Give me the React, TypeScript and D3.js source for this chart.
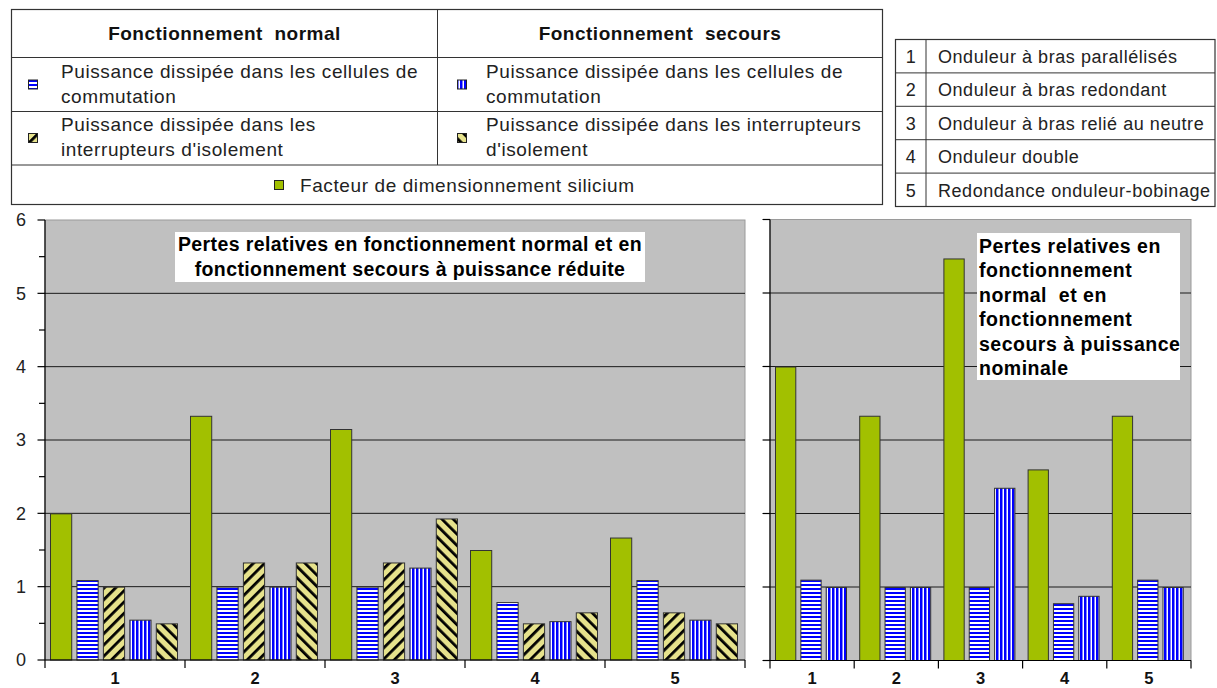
import React from "react";
import * as d3 from "d3";

// ---------- data ----------
const categories = ["1", "2", "3", "4", "5"];
const yTicks = [0, 1, 2, 3, 4, 5, 6];

// Pertes à puissance réduite
const reduitSilicium = [2.0, 3.33, 3.15, 1.5, 1.67];
const reduitNormalCellules = [1.09, 1.0, 1.0, 0.79, 1.09];
const reduitNormalInterrupteurs = [1.0, 1.33, 1.33, 0.5, 0.65];
const reduitSecoursCellules = [0.55, 1.0, 1.26, 0.53, 0.55];
const reduitSecoursInterrupteurs = [0.5, 1.33, 1.93, 0.65, 0.5];

// Pertes à puissance nominale
const nominalSilicium = [4.0, 3.33, 5.47, 2.6, 3.33];
const nominalNormalCellules = [1.1, 1.0, 1.0, 0.78, 1.1];
const nominalSecoursCellules = [1.0, 1.0, 2.35, 0.88, 1.0];

const topologies = [
  "Onduleur à bras parallélisés",
  "Onduleur à bras redondant",
  "Onduleur à bras relié au neutre",
  "Onduleur double",
  "Redondance onduleur-bobinage",
];

const headerNormal = "Fonctionnement  normal";
const headerSecours = "Fonctionnement  secours";
const legendCellules = ["Puissance dissipée dans les cellules de", "commutation"];
const legendInterNormal = ["Puissance dissipée dans les", "interrupteurs d'isolement"];
const legendInterSecours = ["Puissance dissipée dans les interrupteurs", "d'isolement"];
const legendSilicium = "Facteur de dimensionnement silicium";
const titleReduit = [
  "Pertes relatives en fonctionnement normal et en",
  "fonctionnement secours à puissance réduite",
];
const titleNominal = [
  "Pertes relatives en",
  "fonctionnement",
  "normal  et en",
  "fonctionnement",
  "secours à puissance",
  "nominale",
];

// ---------- style ----------
const FONT = "'Liberation Sans', Arial, sans-serif";
const GREEN = "#A2C000";
const YELLOW = "#E6E28C";
const BLUE = "#0000FF";
const GRAY_BG = "#C0C0C0";
const EDGE = "#333333";

type Series = { values: number[]; fill: string };

const reduitSeries: Series[] = [
  { values: reduitSilicium, fill: GREEN },
  { values: reduitNormalCellules, fill: "url(#hStripe)" },
  { values: reduitNormalInterrupteurs, fill: "url(#hatchFwd)" },
  { values: reduitSecoursCellules, fill: "url(#vStripe)" },
  { values: reduitSecoursInterrupteurs, fill: "url(#hatchBack)" },
];
const nominalSeries: Series[] = [
  { values: nominalSilicium, fill: GREEN },
  { values: nominalNormalCellules, fill: "url(#hStripe)" },
  { values: nominalSecoursCellules, fill: "url(#vStripe)" },
];

function BarChart(props: {
  x0: number;
  x1: number;
  y0: number;
  y1: number;
  series: Series[];
  inner: [number, number];
  showLabels: boolean;
  minorTicks: boolean;
}) {
  const { x0, x1, y0, y1, series, inner, showLabels, minorTicks } = props;
  const x = d3.scaleBand<string>().domain(categories).range([x0, x1]).padding(0);
  const y = d3.scaleLinear().domain([0, 6]).range([y0, y1]);
  const xs = d3
    .scaleBand<number>()
    .domain(d3.range(series.length))
    .range(inner)
    .paddingInner(0.16)
    .paddingOuter(0);
  const minor = minorTicks ? d3.range(0.5, 6, 1) : [];
  const bounds = [...categories.map((c) => x(c) as number), x1];
  return (
    <g>
      <rect x={x0} y={y1} width={x1 - x0} height={y0 - y1} fill={GRAY_BG} stroke="#9a9a9a" strokeWidth={1} />
      {[1, 2, 3, 4, 5].map((v) => (
        <line key={"g" + v} x1={x0} x2={x1} y1={y(v)} y2={y(v)} stroke="#1a1a1a" strokeWidth={1} />
      ))}
      {series.map((s, si) =>
        s.values.map((v, ci) => {
          const bx = (x(categories[ci]) as number) + (xs(si) as number);
          return (
            <rect
              key={si + "-" + ci}
              x={bx + 0.5}
              y={y(v) + 0.5}
              width={xs.bandwidth() - 1}
              height={y(0) - y(v) - 0.5}
              fill={s.fill}
              stroke={EDGE}
              strokeWidth={1}
            />
          );
        })
      )}
      {/* y axis */}
      <line x1={x0} x2={x0} y1={y1} y2={y0} stroke="#000" strokeWidth={1.2} />
      {yTicks.map((t) => (
        <line key={"t" + t} x1={x0 - 7.5} x2={x0} y1={y(t)} y2={y(t)} stroke="#000" strokeWidth={1.2} />
      ))}
      {minor.map((t) => (
        <line key={"m" + t} x1={x0 - 6} x2={x0} y1={y(t)} y2={y(t)} stroke="#000" strokeWidth={1.2} />
      ))}
      {showLabels &&
        yTicks.map((t) => (
          <text
            key={"l" + t}
            x={x0 - 19}
            y={y(t)}
            dy="0.36em"
            textAnchor="end"
            fontFamily={FONT}
            fontSize={18}
            fill="#222"
          >
            {t}
          </text>
        ))}
      {/* x axis */}
      <line x1={x0} x2={x1} y1={y0} y2={y0} stroke="#000" strokeWidth={1.2} />
      {bounds.map((bx, i) => (
        <line key={"b" + i} x1={bx} x2={bx} y1={y0} y2={y0 + 8} stroke="#000" strokeWidth={1.2} />
      ))}
      {categories.map((c) => (
        <text
          key={"c" + c}
          x={(x(c) as number) + x.bandwidth() / 2}
          y={684}
          textAnchor="middle"
          fontFamily={FONT}
          fontWeight="bold"
          fontSize={16.5}
          fill="#111"
        >
          {c}
        </text>
      ))}
    </g>
  );
}

function Icon(props: { cx: number; cy: number; fill: string }) {
  return (
    <rect x={props.cx - 4.5} y={props.cy - 4.5} width={9} height={9} fill={props.fill} stroke="#222" strokeWidth={1} />
  );
}

export default function App() {
  const txt = { fontFamily: FONT, fontSize: 19, fill: "#222", letterSpacing: 0.6 } as const;
  const L = 11.5, M = 437.5, R = 882.5;
  const rowY = [9.5, 57.5, 111.5, 165, 204.5];
  const tL = 895.5, tM = 926, tR = 1215, tTop = 39.5, rowH = 33.4;
  return (
    <svg width={1217} height={688} style={{ position: "absolute", left: 0, top: 0, background: "#fff" }}>
      <defs>
        <pattern id="hStripe" width={4} height={4} patternUnits="userSpaceOnUse">
          <rect width={4} height={4} fill="#fff" />
          <rect width={4} height={2} fill={BLUE} />
        </pattern>
        <pattern id="vStripe" width={4} height={4} patternUnits="userSpaceOnUse">
          <rect width={4} height={4} fill="#fff" />
          <rect width={2.5} height={4} fill={BLUE} />
        </pattern>
        <pattern id="hatchFwd" width={8} height={8} patternUnits="userSpaceOnUse" patternTransform="rotate(45)">
          <rect width={8} height={8} fill={YELLOW} />
          <rect width={2.8} height={8} fill="#000" />
        </pattern>
        <pattern id="hatchBack" width={8} height={8} patternUnits="userSpaceOnUse" patternTransform="rotate(-45)">
          <rect width={8} height={8} fill={YELLOW} />
          <rect width={2.8} height={8} fill="#000" />
        </pattern>
      </defs>

      {/* legend table */}
      <rect x={L} y={rowY[0]} width={R - L} height={rowY[4] - rowY[0]} fill="#fff" stroke="#333" strokeWidth={1.2} />
      {rowY.slice(1, 4).map((yy, i) => (
        <line key={"rl" + i} x1={L} x2={R} y1={yy} y2={yy} stroke="#333" strokeWidth={1} />
      ))}
      <line x1={M} x2={M} y1={rowY[0]} y2={rowY[3]} stroke="#333" strokeWidth={1} />
      <text x={(L + M) / 2} y={40} textAnchor="middle" {...txt} letterSpacing={0.5} fontWeight="bold" fill="#111" style={{ whiteSpace: "pre" }}>
        {headerNormal}
      </text>
      <text x={(M + R) / 2} y={40} textAnchor="middle" {...txt} letterSpacing={0.5} fontWeight="bold" fill="#111" style={{ whiteSpace: "pre" }}>
        {headerSecours}
      </text>
      <Icon cx={33} cy={84.5} fill="url(#hStripe)" />
      <text x={61} y={78} {...txt}>{legendCellules[0]}</text>
      <text x={61} y={103} {...txt}>{legendCellules[1]}</text>
      <Icon cx={33} cy={138} fill="url(#hatchFwd)" />
      <text x={61} y={131} {...txt}>{legendInterNormal[0]}</text>
      <text x={61} y={156} {...txt}>{legendInterNormal[1]}</text>
      <Icon cx={462} cy={84.5} fill="url(#vStripe)" />
      <text x={486} y={78} {...txt}>{legendCellules[0]}</text>
      <text x={486} y={103} {...txt}>{legendCellules[1]}</text>
      <Icon cx={462} cy={138} fill="url(#hatchBack)" />
      <text x={486} y={131} {...txt}>{legendInterSecours[0]}</text>
      <text x={486} y={156} {...txt}>{legendInterSecours[1]}</text>
      <Icon cx={279} cy={185} fill={GREEN} />
      <text x={300} y={191.5} {...txt}>{legendSilicium}</text>

      {/* topology table */}
      <rect x={tL} y={tTop} width={tR - tL} height={rowH * 5} fill="#fff" stroke="#333" strokeWidth={1.2} />
      {topologies.map((t, i) => (
        <g key={"tp" + i}>
          {i > 0 && <line x1={tL} x2={tR} y1={tTop + rowH * i} y2={tTop + rowH * i} stroke="#333" strokeWidth={1} />}
          <text x={(tL + tM) / 2} y={tTop + rowH * i + 23.5} textAnchor="middle" {...txt} letterSpacing={0} fontSize={18}>
            {categories[i]}
          </text>
          <text x={938} y={tTop + rowH * i + 23.5} {...txt} letterSpacing={0.55} fontSize={18}>
            {t}
          </text>
        </g>
      ))}
      <line x1={tM} x2={tM} y1={tTop} y2={tTop + rowH * 5} stroke="#333" strokeWidth={1} />

      {/* charts */}
      <BarChart x0={45} x1={745} y0={660} y1={220} series={reduitSeries} inner={[5, 133]} showLabels={true} minorTicks={true} />
      <BarChart x0={770} x1={1191} y0={660.5} y1={219.5} series={nominalSeries} inner={[5, 77]} showLabels={false} minorTicks={false} />

      {/* chart titles */}
      <rect x={175} y={232} width={470} height={50} fill="#fff" />
      {titleReduit.map((l, i) => (
        <text key={"tr" + i} x={410} y={251 + i * 24.5} textAnchor="middle" {...txt} letterSpacing={0.4} fontSize={19.5} fontWeight="bold" fill="#000">
          {l}
        </text>
      ))}
      <rect x={977} y={233} width={203} height={147} fill="#fff" />
      {titleNominal.map((l, i) => (
        <text key={"tn" + i} x={979} y={253 + i * 24.4} {...txt} letterSpacing={0.5} fontSize={19.5} fontWeight="bold" fill="#000" style={{ whiteSpace: "pre" }}>
          {l}
        </text>
      ))}
    </svg>
  );
}
